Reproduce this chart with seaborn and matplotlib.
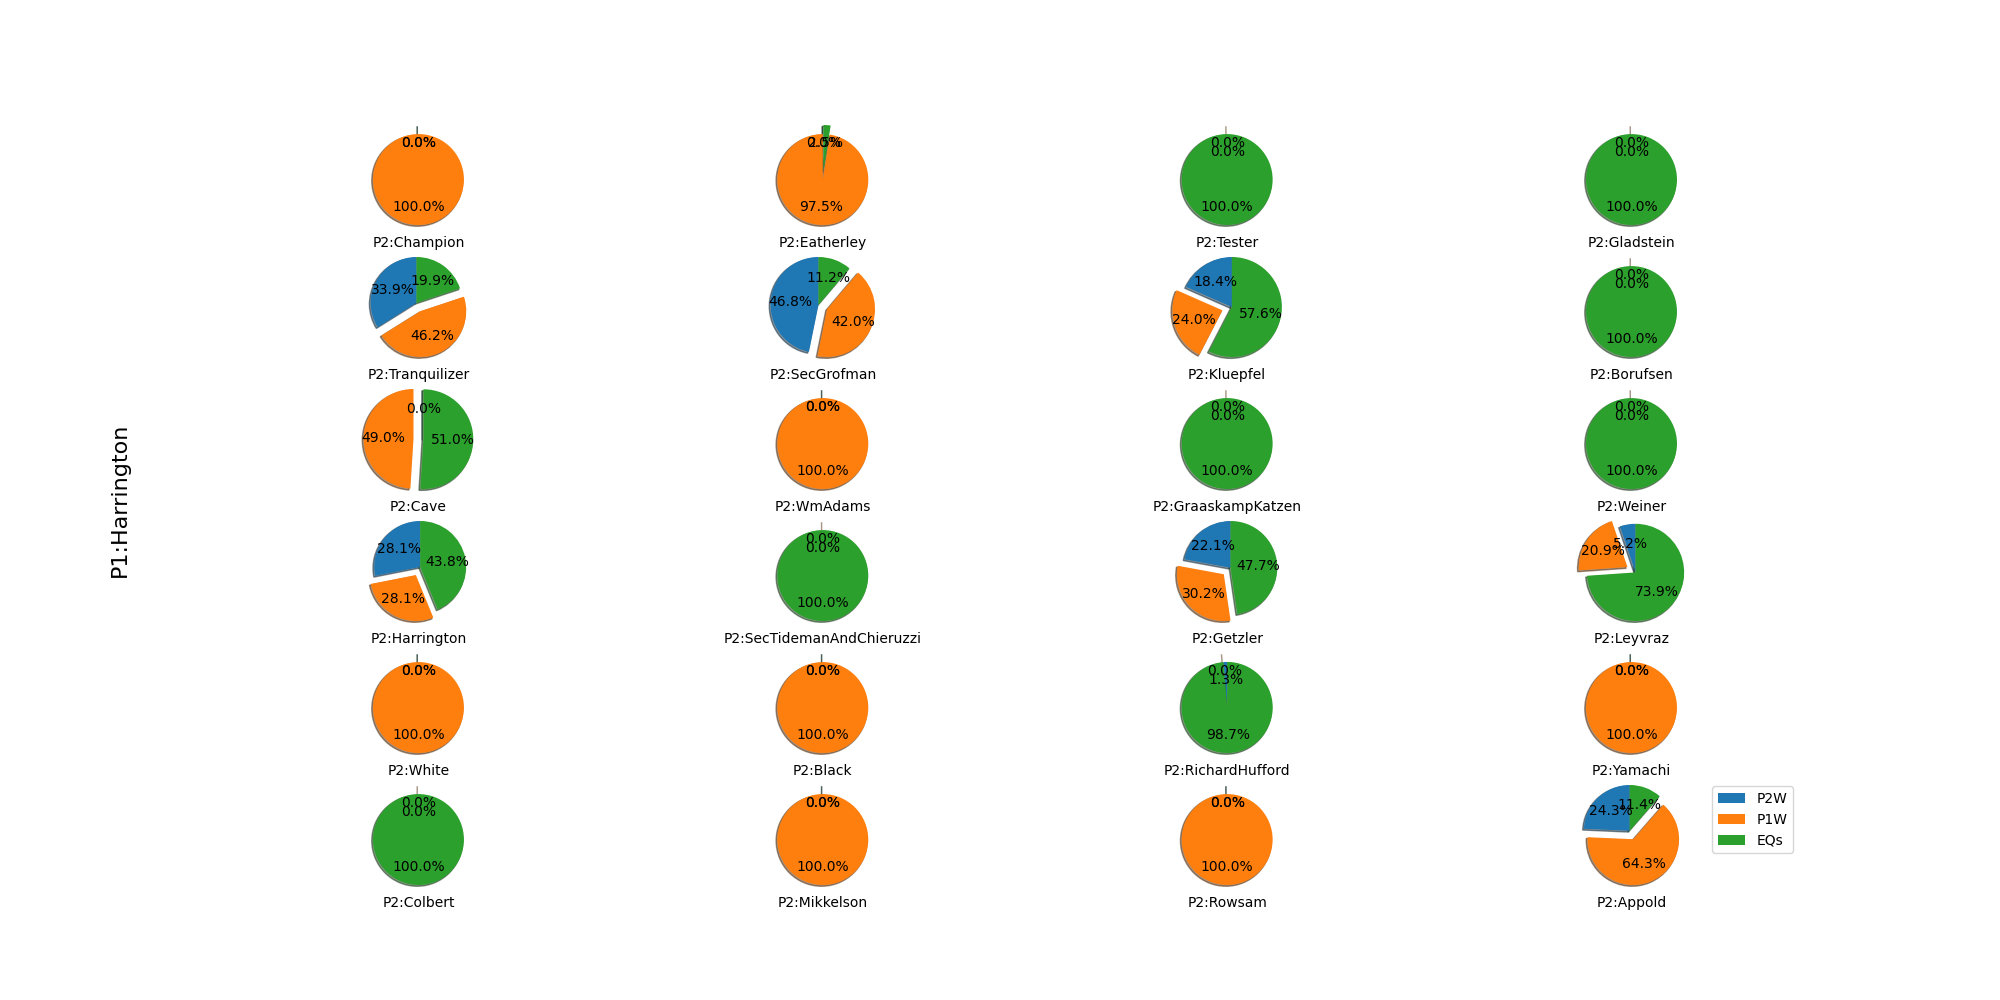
import matplotlib
matplotlib.use("Agg")
import matplotlib.pyplot as plt
import seaborn as sns

player1 = "Harrington"
opponents = ["Champion", "Eatherley", "Tester", "Gladstein",
             "Tranquilizer", "SecGrofman", "Kluepfel", "Borufsen",
             "Cave", "WmAdams", "GraaskampKatzen", "Weiner",
             "Harrington", "SecTidemanAndChieruzzi", "Getzler", "Leyvraz",
             "White", "Black", "RichardHufford", "Yamachi",
             "Colbert", "Mikkelson", "Rowsam", "Appold"]
p2w = [0, 0, 0, 0,
       33.9, 46.8, 18.4, 0,
       0, 0, 0, 0,
       28.1, 0, 22.1, 5.2,
       0, 0, 1.3, 0,
       0, 0, 0, 24.3]
p1w = [100, 97.5, 0, 0,
       46.2, 42.0, 24.0, 0,
       49.0, 100, 0, 0,
       28.1, 0, 30.2, 20.9,
       100, 100, 0, 100,
       0, 100, 100, 64.3]
eqs = [0, 2.5, 100, 100,
       19.9, 11.2, 57.6, 100,
       51.0, 0, 100, 100,
       43.8, 100, 47.7, 73.9,
       0, 0, 98.7, 0,
       100, 0, 0, 11.4]
slice_labels = ["P2W", "P1W", "EQs"]

colors = sns.color_palette("tab10", 3)

fig, axes = plt.subplots(6, 4, figsize=(20, 10), dpi=100)
for i, ax in enumerate(axes.flat):
    vals = [p2w[i], p1w[i], eqs[i]]
    ax.pie(vals, explode=(0, 0.2, 0), autopct="%1.1f%%", shadow=True,
           startangle=90, colors=colors)
    ax.set_xlabel("P2:" + opponents[i])
    ax.axis("equal")

axes.flat[-1].legend(slice_labels, loc="center right",
                     bbox_to_anchor=(1.0, 0.64))
fig.text(0.06, 0.5, "P1:" + player1, va="center", ha="center",
         rotation="vertical", fontsize=16)
fig.savefig("out.png")
